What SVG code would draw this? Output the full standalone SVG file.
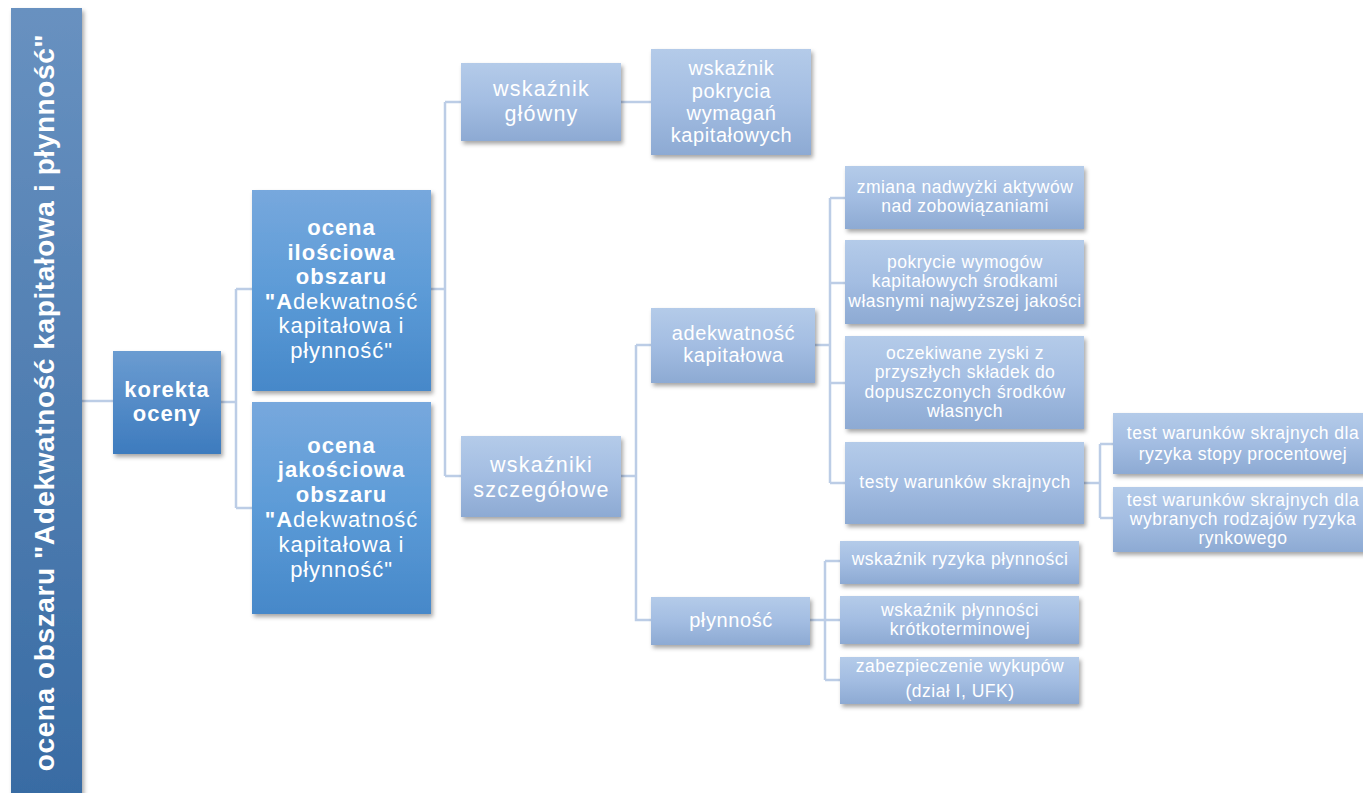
<svg xmlns="http://www.w3.org/2000/svg" width="1363" height="793" viewBox="0 0 1363 793">
<defs>
<linearGradient id="gBar" x1="0" y1="0" x2="0" y2="1"><stop offset="0" stop-color="#6891c0"/><stop offset="1" stop-color="#386ba3"/></linearGradient>
<linearGradient id="gMid" x1="0" y1="0" x2="0" y2="1"><stop offset="0" stop-color="#6b9cd1"/><stop offset="1" stop-color="#3d7bbe"/></linearGradient>
<linearGradient id="gBig" x1="0" y1="0" x2="0" y2="1"><stop offset="0" stop-color="#77a8dd"/><stop offset="0.5" stop-color="#5c9bd7"/><stop offset="1" stop-color="#4688c9"/></linearGradient>
<linearGradient id="gLight" x1="0" y1="0" x2="0" y2="1"><stop offset="0" stop-color="#b4cbe9"/><stop offset="0.5" stop-color="#a3bde2"/><stop offset="1" stop-color="#8daad3"/></linearGradient>
<filter id="sh" x="-10%" y="-10%" width="125%" height="130%"><feDropShadow dx="2" dy="3" stdDeviation="2" flood-color="#000" flood-opacity="0.35"/></filter>
</defs>
<style>
text{font-family:"Liberation Sans",Arial,sans-serif;fill:#fff;text-anchor:middle}
.bar{fill:url(#gBar);filter:url(#sh)}
.mid{fill:url(#gMid);filter:url(#sh)}
.big{fill:url(#gBig);filter:url(#sh)}
.lt{fill:url(#gLight);filter:url(#sh)}
.tb{font-size:28px;font-weight:bold;letter-spacing:0.6px}
.tk{font-size:22px;font-weight:bold;letter-spacing:1px}
.to{font-size:22px;letter-spacing:0.9px}
.b{font-weight:bold}
.tm{font-size:21.5px;letter-spacing:1.2px}
.tn{font-size:20px;letter-spacing:0.6px}
.ts{font-size:17.5px;letter-spacing:0.5px}
.con{fill:none;stroke:#bccde6;stroke-width:2.5}
</style>
<g id="connectors" class="con">
<path d="M82,401H113"/>
<path d="M221,402H236M236,289V508M236,289H252M236,508H252"/>
<path d="M431,289H445M445,102V476M445,102H461M445,476H461"/>
<path d="M621,102H651"/>
<path d="M621,476H636M636,345V620H651M636,345H651"/>
<path d="M815,345H830M830,198V483M830,198H845M830,283H845M830,383H845M830,483H845"/>
<path d="M1084,483H1100M1100,444V518M1100,444H1113M1100,518H1113"/>
<path d="M810,620H825M825,561V680M825,561H840M825,620H840M825,680H840"/>
</g>
<g id="n_root">
<rect class="bar" x="11" y="8" width="71" height="800"/>
<text class="tb" transform="translate(54,402.5) rotate(-90)">ocena obszaru "Adekwatność kapitałowa i płynność"</text>
</g>
<g id="n_korekta">
<rect class="mid" x="113" y="351" width="108" height="103"/>
<text class="tk" x="167" y="397">korekta</text>
<text class="tk" x="167" y="421">oceny</text>
</g>
<g id="n_ilosciowa">
<rect class="big" x="252" y="190" width="179" height="201"/>
<text class="tk" x="341.5" y="235">ocena</text>
<text class="tk" x="341.5" y="259.5">ilościowa</text>
<text class="tk" x="341.5" y="284">obszaru</text>
<text class="to" x="341.5" y="308.5"><tspan class="b">"A</tspan>dekwatność</text>
<text class="to" x="341.5" y="333">kapitałowa i</text>
<text class="to" x="341.5" y="357.5">płynność"</text>
</g>
<g id="n_jakosciowa">
<rect class="big" x="252" y="402" width="179" height="212"/>
<text class="tk" x="341.5" y="453">ocena</text>
<text class="tk" x="341.5" y="477">jakościowa</text>
<text class="tk" x="341.5" y="502">obszaru</text>
<text class="to" x="341.5" y="527"><tspan class="b">"A</tspan>dekwatność</text>
<text class="to" x="341.5" y="552">kapitałowa i</text>
<text class="to" x="341.5" y="577">płynność"</text>
</g>
<g id="n_glowny">
<rect class="lt" x="461" y="63" width="160" height="78"/>
<text class="tm" x="541.5" y="96">wskaźnik</text>
<text class="tm" x="541.5" y="120.5">główny</text>
</g>
<g id="n_pokrycia">
<rect class="lt" x="651" y="49" width="160" height="106"/>
<text class="tn" x="731.5" y="75">wskaźnik</text>
<text class="tn" x="731.5" y="97.5">pokrycia</text>
<text class="tn" x="731.5" y="119.5">wymagań</text>
<text class="tn" x="731.5" y="142">kapitałowych</text>
</g>
<g id="n_szczegolowe">
<rect class="lt" x="461" y="436" width="160" height="81"/>
<text class="tm" x="541.5" y="472">wskaźniki</text>
<text class="tm" x="541.5" y="497">szczegółowe</text>
</g>
<g id="n_adekwatnosc">
<rect class="lt" x="651" y="308" width="164" height="75"/>
<text class="tn" x="733.5" y="340">adekwatność</text>
<text class="tn" x="733.5" y="362">kapitałowa</text>
</g>
<g id="n_plynnosc">
<rect class="lt" x="651" y="597" width="159" height="48"/>
<text class="tn" x="731" y="627">płynność</text>
</g>
<g id="n_zmiana">
<rect class="lt" x="845" y="166" width="239" height="63"/>
<text class="ts" x="965" y="193">zmiana nadwyżki aktywów</text>
<text class="ts" x="965" y="212">nad zobowiązaniami</text>
</g>
<g id="n_pokrycie">
<rect class="lt" x="845" y="240" width="239" height="84"/>
<text class="ts" x="965" y="268">pokrycie wymogów</text>
<text class="ts" x="965" y="287">kapitałowych środkami</text>
<text class="ts" x="965" y="307">własnymi najwyższej jakości</text>
</g>
<g id="n_oczekiwane">
<rect class="lt" x="845" y="336" width="239" height="93"/>
<text class="ts" x="965" y="359">oczekiwane zyski z</text>
<text class="ts" x="965" y="378">przyszłych składek do</text>
<text class="ts" x="965" y="398">dopuszczonych środków</text>
<text class="ts" x="965" y="417">własnych</text>
</g>
<g id="n_testy">
<rect class="lt" x="845" y="442" width="239" height="82"/>
<text class="ts" x="965" y="488">testy warunków skrajnych</text>
</g>
<g id="n_stopy">
<rect class="lt" x="1113" y="413" width="259" height="61"/>
<text class="ts" x="1243" y="439">test warunków skrajnych dla</text>
<text class="ts" x="1243" y="460">ryzyka stopy procentowej</text>
</g>
<g id="n_rynkowego">
<rect class="lt" x="1113" y="487" width="259" height="65"/>
<text class="ts" x="1243" y="506">test warunków skrajnych dla</text>
<text class="ts" x="1243" y="525">wybranych rodzajów ryzyka</text>
<text class="ts" x="1243" y="544">rynkowego</text>
</g>
<g id="n_ryzyka">
<rect class="lt" x="840" y="541" width="239" height="43"/>
<text class="ts" x="960" y="565">wskaźnik ryzyka płynności</text>
</g>
<g id="n_krotko">
<rect class="lt" x="840" y="596" width="239" height="48"/>
<text class="ts" x="960" y="616">wskaźnik płynności</text>
<text class="ts" x="960" y="635">krótkoterminowej</text>
</g>
<g id="n_zabezp">
<rect class="lt" x="840" y="657" width="239" height="47"/>
<text class="ts" x="960" y="672">zabezpieczenie wykupów</text>
<text class="ts" x="960" y="697">(dział I, UFK)</text>
</g>
</svg>
